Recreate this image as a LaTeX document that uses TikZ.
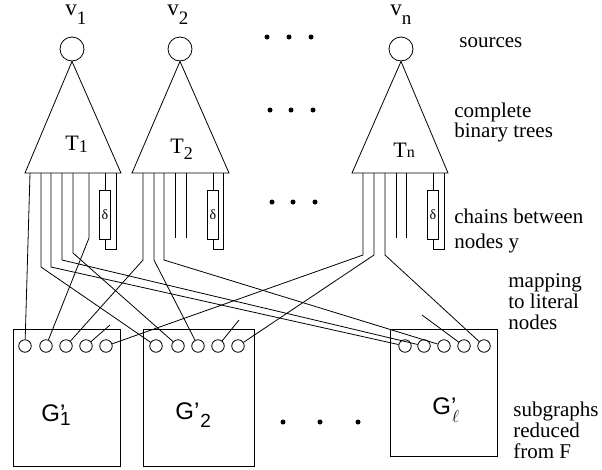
\documentclass[tikz,border=0pt]{standalone}
\usepackage{fontspec}
\setmainfont{Liberation Serif}
\setsansfont{Liberation Sans}
\newcommand{\lowsub}[3][3pt]{\raisebox{-#1}{\fontsize{#2}{#2}\selectfont #3}}

\begin{document}
\begin{tikzpicture}
  [x=10pt,y=-10pt,line width=.8pt,
   every node/.style={inner sep=0pt,font=\fontsize{21}{21}\selectfont},
   src/.style={circle,draw,minimum size=24pt},
   lit/.style={circle,draw,minimum size=12.5pt},
   chainbox/.style={draw,minimum width=11pt,minimum height=49pt,font=\fontsize{14}{14}\selectfont},
   gbox/.style={draw,minimum width=107pt,minimum height=137pt},
   dot/.style={circle,fill,minimum size=5pt},
   glabel/.style={anchor=base west,font=\sffamily\fontsize{24}{24}\selectfont},
   note/.style={align=left,anchor=west}]
  \useasboundingbox (0,0) rectangle (60.2,46.9);

  % sources
  \node[src] (v1) at (7.2,4.9) {};
  \node[src] (v2) at (18.0,4.9) {};
  \node[src] (vn) at (40.1,4.9) {};
  \node[anchor=base west,font=\fontsize{23}{23}\selectfont] (v1l) at (6.5,1.5) {v\lowsub[9pt]{19}{1}};
  \node[anchor=base west,font=\fontsize{23}{23}\selectfont] (v2l) at (16.7,1.5) {v\lowsub[9pt]{19}{2}};
  \node[anchor=base west,font=\fontsize{23}{23}\selectfont] (vnl) at (39.0,1.5) {v\lowsub[9pt]{19}{n}};

  % trees
  \draw (v1.south) -- (2.5,17.3) -- (12.1,17.3) -- cycle;
  \draw (v2.south) -- (13.2,17.3) -- (22.9,17.3) -- cycle;
  \draw (vn.south) -- (35.2,17.3) -- (44.8,17.3) -- cycle;
  \node[anchor=base west,font=\fontsize{22}{22}\selectfont] (t1) at (6.5,15.0) {T\lowsub[2pt]{18}{1}};
  \node[anchor=base west,font=\fontsize{22}{22}\selectfont] (t2) at (17.0,15.3) {T\lowsub[6pt]{18}{2}};
  \node[anchor=base west,font=\fontsize{22}{22}\selectfont] (tn) at (39.3,15.7) {T\lowsub[0pt]{16}{n}};

  \foreach \i/\x in {1/3.0,2/4.1,3/5.1,4/6.2,5/7.3,6/8.9}
    \coordinate (t1l\i) at (\x,17.3);
  \foreach \i/\x in {1/14.3,2/15.4,3/16.4,4/17.5,5/18.6}
    \coordinate (t2l\i) at (\x,17.3);
  \foreach \i/\x in {1/36.3,2/37.4,3/38.5,4/39.6,5/40.6}
    \coordinate (tnl\i) at (\x,17.3);

  % chains
  \node[chainbox] (d1) at (10.5,21.45) {δ};
  \node[chainbox] (d2) at (21.3,21.45) {δ};
  \node[chainbox] (dn) at (43.3,21.45) {δ};
  \coordinate (t1r) at (11.6,17.3);
  \coordinate (t2r) at (22.3,17.3);
  \coordinate (tnr) at (44.4,17.3);
  \foreach \d/\r in {d1/t1r,d2/t2r,dn/tnr}
    \draw (\d.north |- \r) -- (\d.north) (\d.south) -- ++(0,1.0) -| (\r);

  % subgraphs
  \node[gbox] (g1) at (6.64,39.75) {};
  \node[gbox,minimum width=111pt] (g2) at (19.85,39.75) {};
  \node[gbox,minimum height=127pt] (gl) at (44.35,39.25) {};
  \foreach \i/\x in {1/2.5,2/4.6,3/6.6,4/8.6,5/10.6}
    \node[lit] (g1c\i) at (\x,34.6) {};
  \foreach \i/\x in {1/15.6,2/17.8,3/19.8,4/21.8,5/23.8}
    \node[lit] (g2c\i) at (\x,34.6) {};
  \foreach \i/\x in {1/40.5,2/42.4,3/44.4,4/46.4,5/48.4}
    \node[lit] (glc\i) at (\x,34.6) {};
  \node[glabel] (g1l) at (4.1,42.1) {G\rlap{’}\lowsub[4pt]{19}{1}};
  \node[glabel] (g2l) at (17.5,41.9) {G’\kern1pt\lowsub[8pt]{19}{2}};
  \node[glabel] (gll) at (43.2,41.4) {G\rlap{’}\kern1pt\lowsub[8pt]{19}{$\ell$}};

  % mapping
  \foreach \n/\x/\y in {t1b2/4.1/26.7,t1b3/5.1/26.7,t1b4/6.2/26.0,t1b5/7.3/25.3,t1b6/8.9/23.8,
                        t2b1/14.3/26.0,t2b2/15.4/26.0,t2b3/16.4/26.0,t2b4/17.5/23.8,t2b5/18.6/23.8,
                        tnb1/36.3/25.5,tnb2/37.4/25.5,tnb3/38.5/25.5,tnb4/39.6/23.8,tnb5/40.6/23.8}
    \coordinate (\n) at (\x,\y);

  \draw (t1l1) -- (g1c1);
  \foreach \leaf/\bend/\to in {t1l2/t1b2/g2c1,t1l3/t1b3/glc1,t1l4/t1b4/glc2,t1l5/t1b5/g2c2,t1l6/t1b6/g1c2,
                               t2l1/t2b1/g1c3,t2l2/t2b2/g2c3,t2l3/t2b3/glc3,
                               tnl1/tnb1/g1c5,tnl2/tnb2/g2c5,tnl3/tnb3/glc5}
    \draw (\leaf) -- (\bend) -- (\to);
  \foreach \from/\to in {t2l4/t2b4,t2l5/t2b5,tnl4/tnb4,tnl5/tnb5}
    \draw (\from) -- (\to);

  \coordinate (s1) at (11.0,32.5);
  \coordinate (s2) at (23.9,32.0);
  \coordinate (sl) at (42.2,31.5);
  \foreach \from/\to in {s1/g1c4,s2/g2c4,sl/glc4}
    \draw (\from) -- (\to);

  % dots
  \foreach \x/\y [count=\i] in {26.7/3.7,28.9/3.7,31.1/3.7,27.0/11.0,29.1/11.0,31.3/11.0,
                                27.2/20.2,29.3/20.2,31.5/20.2,28.3/42.2,32.0/42.2,35.8/42.2}
    \node[dot] (dot\i) at (\x,\y) {};

  % notes
  \node[anchor=base west] (n1) at (45.9,4.7) {sources};
  \node[note,font=\fontsize{21}{20}\selectfont] (n2) at (45.4,12.22) {complete\\binary trees};
  \node[note,font=\fontsize{21}{25}\selectfont] (n3) at (45.4,23.07) {chains between\\nodes y};
  \node[note] (n4) at (50.8,30.19) {mapping\\to literal\\nodes};
  \node[note] (n5) at (51.3,42.99) {subgraphs\\reduced\\from F};
\end{tikzpicture}
\end{document}
